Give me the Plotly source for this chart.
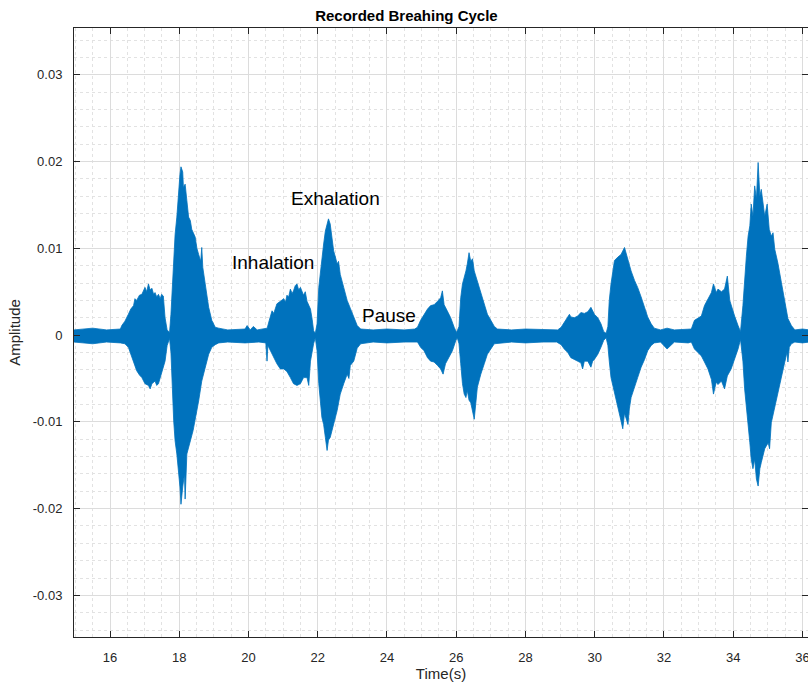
import plotly.graph_objects as go

# Upper envelope of the recorded breathing signal (time in s, amplitude)
upper_t = [14.96, 15.50, 15.90, 16.30,
           16.34, 16.43, 16.53, 16.60, 16.68, 16.72, 16.77, 16.85, 16.92, 17.01, 17.06, 17.11,
           17.16, 17.21, 17.26, 17.30, 17.35, 17.40, 17.45, 17.49, 17.54, 17.59, 17.65, 17.72,
           17.76, 17.82, 17.88, 17.93, 17.98, 18.02, 18.05, 18.10, 18.12, 18.17, 18.22, 18.27,
           18.32, 18.36, 18.46, 18.51, 18.56, 18.62, 18.65, 18.68, 18.75, 18.80, 18.85, 18.94,
           19.04, 19.14, 19.40, 19.90, 19.96, 20.05, 20.14, 20.25, 20.45,
           20.54, 20.60, 20.68, 20.73, 20.82, 20.92, 21.02, 21.07, 21.11, 21.16, 21.21, 21.26,
           21.30, 21.35, 21.40, 21.45, 21.50, 21.59, 21.64, 21.69, 21.79, 21.84, 21.88, 21.93,
           21.98, 22.03, 22.08, 22.12, 22.17, 22.22, 22.27, 22.31, 22.36, 22.41, 22.46, 22.51,
           22.56, 22.60, 22.65, 22.75, 22.85, 22.94, 23.04, 23.14, 23.24, 23.60, 24.00, 24.50, 24.80,
           24.88, 24.97, 25.07, 25.17, 25.26, 25.36, 25.46, 25.55, 25.60, 25.65, 25.74, 25.84,
           25.94, 26.01,
           26.08, 26.13, 26.18, 26.23, 26.28, 26.32, 26.37, 26.42, 26.47, 26.52, 26.61, 26.71,
           26.81, 26.90, 27.00, 27.10, 27.19, 27.60, 28.00, 28.50,
           28.93, 29.03, 29.12, 29.22, 29.27, 29.31, 29.41, 29.51, 29.60, 29.70, 29.80, 29.89,
           29.99, 30.09, 30.18, 30.26, 30.33,
           30.38, 30.42, 30.47, 30.52, 30.57, 30.67, 30.76, 30.86, 30.91, 30.96, 31.05, 31.15,
           31.24, 31.34, 31.44, 31.53, 31.63, 31.72, 31.90, 32.09, 32.30, 32.70,
           32.79, 32.88, 32.98, 33.08, 33.17, 33.27, 33.37, 33.43, 33.51, 33.56, 33.66, 33.75,
           33.83, 33.90, 33.94, 34.04, 34.14, 34.21,
           34.28, 34.33, 34.38, 34.43, 34.48, 34.52, 34.57, 34.62, 34.67, 34.72, 34.77, 34.81,
           34.86, 34.91, 34.98, 35.04, 35.10, 35.15, 35.20, 35.29, 35.39, 35.49, 35.58, 35.68,
           35.78, 36.00, 36.20]
upper_v = [0.0006, 0.0008, 0.0006, 0.0007,
           0.0011, 0.0016, 0.0024, 0.0030, 0.0034, 0.0042, 0.0040, 0.0046, 0.0047, 0.0055, 0.0050, 0.0059,
           0.0052, 0.0054, 0.0047, 0.0049, 0.0044, 0.0047, 0.0042, 0.0047, 0.0045, 0.0020, 0.0006, 0.0003,
           0.0024, 0.0074, 0.0116, 0.0136, 0.0170, 0.0185, 0.0194, 0.0188, 0.0170, 0.0174, 0.0155, 0.0136,
           0.0132, 0.0122, 0.0113, 0.0100, 0.0093, 0.0085, 0.0101, 0.0078, 0.0059, 0.0045, 0.0032, 0.0017,
           0.0009, 0.0008, 0.0006, 0.0007, 0.0011, 0.0006, 0.0010, 0.0006, 0.0007,
           0.0008, 0.0017, 0.0028, 0.0025, 0.0036, 0.0039, 0.0042, 0.0038, 0.0046, 0.0044, 0.0053, 0.0048,
           0.0051, 0.0057, 0.0059, 0.0052, 0.0055, 0.0046, 0.0050, 0.0039, 0.0030, 0.0018, 0.0005, 0.0002,
           0.0013, 0.0055, 0.0074, 0.0093, 0.0105, 0.0120, 0.0128, 0.0134, 0.0128, 0.0112, 0.0097, 0.0090,
           0.0082, 0.0085, 0.0070, 0.0055, 0.0040, 0.0031, 0.0020, 0.0011, 0.0007, 0.0006, 0.0007, 0.0006, 0.0007,
           0.0009, 0.0017, 0.0024, 0.0030, 0.0034, 0.0035, 0.0039, 0.0043, 0.0051, 0.0035, 0.0028, 0.0020,
           0.0009, 0.0003,
           0.0010, 0.0043, 0.0059, 0.0066, 0.0074, 0.0082, 0.0095, 0.0085, 0.0088, 0.0074, 0.0062, 0.0051,
           0.0035, 0.0024, 0.0017, 0.0010, 0.0007, 0.0006, 0.0007, 0.0006,
           0.0006, 0.0009, 0.0015, 0.0022, 0.0024, 0.0021, 0.0020, 0.0022, 0.0026, 0.0025, 0.0027, 0.0032,
           0.0024, 0.0020, 0.0013, 0.0004, 0.0002,
           0.0010, 0.0040, 0.0059, 0.0071, 0.0086, 0.0090, 0.0093, 0.0101, 0.0093, 0.0086, 0.0074, 0.0063,
           0.0055, 0.0044, 0.0032, 0.0021, 0.0013, 0.0008, 0.0006, 0.0008, 0.0006, 0.0007,
           0.0007, 0.0017, 0.0020, 0.0022, 0.0034, 0.0041, 0.0049, 0.0059, 0.0049, 0.0053, 0.0050, 0.0053,
           0.0068, 0.0040, 0.0034, 0.0022, 0.0011, 0.0004,
           0.0034, 0.0068, 0.0091, 0.0114, 0.0126, 0.0151, 0.0137, 0.0172, 0.0157, 0.0199, 0.0160, 0.0168,
           0.0149, 0.0137, 0.0151, 0.0122, 0.0114, 0.0118, 0.0099, 0.0083, 0.0061, 0.0038, 0.0019, 0.0011,
           0.0006, 0.0007, 0.0006]

# Lower envelope of the same signal
lower_t = [14.96, 15.50, 15.90, 16.30,
           16.43, 16.53, 16.68, 16.77, 16.85, 16.92, 17.01, 17.11, 17.16, 17.21, 17.30, 17.35,
           17.40, 17.49, 17.54, 17.59, 17.65, 17.72,
           17.76, 17.80, 17.84, 17.88, 17.93, 17.98, 18.02, 18.05, 18.10, 18.15, 18.17, 18.22,
           18.27, 18.32, 18.40, 18.46, 18.56, 18.65, 18.75, 18.85, 18.94, 19.04, 19.14,
           19.40, 19.90, 20.30, 20.50,
           20.535, 20.56, 20.63, 20.73, 20.82, 20.92, 21.02, 21.11, 21.21, 21.30, 21.40, 21.50,
           21.59, 21.69, 21.74, 21.79, 21.88, 21.93,
           21.98, 22.03, 22.08, 22.12, 22.17, 22.22, 22.27, 22.31, 22.36, 22.41, 22.46, 22.51,
           22.56, 22.65, 22.75, 22.85, 22.90, 22.94, 23.04, 23.14, 23.24, 23.60, 24.00, 24.50, 24.80,
           24.88, 24.97, 25.07, 25.17, 25.26, 25.36, 25.46, 25.55, 25.62, 25.69, 25.79, 25.89,
           25.99, 26.03,
           26.08, 26.13, 26.18, 26.23, 26.28, 26.32, 26.37, 26.42, 26.52, 26.57, 26.61, 26.71,
           26.81, 26.90, 27.00, 27.10, 27.19, 27.60, 28.00, 28.50, 28.90,
           29.03, 29.12, 29.22, 29.31, 29.41, 29.51, 29.60, 29.65, 29.70, 29.80, 29.89, 29.94,
           29.99, 30.09, 30.18, 30.26, 30.33,
           30.38, 30.42, 30.47, 30.52, 30.57, 30.67, 30.76, 30.81, 30.86, 30.96, 31.00, 31.05,
           31.15, 31.24, 31.34, 31.44, 31.53, 31.63, 31.72, 31.90, 32.09, 32.30, 32.70,
           32.79, 32.88, 32.98, 33.08, 33.17, 33.27, 33.37, 33.43, 33.51, 33.56, 33.66, 33.75,
           33.83, 33.94, 34.04, 34.14, 34.21,
           34.28, 34.33, 34.38, 34.43, 34.48, 34.52, 34.57, 34.62, 34.67, 34.72, 34.77, 34.81,
           34.86, 34.91, 35.01, 35.05, 35.10, 35.20, 35.29, 35.39, 35.49, 35.55, 35.58, 35.62,
           35.68, 35.78, 36.00, 36.20]
lower_v = [-0.0008, -0.0010, -0.0008, -0.0009,
           -0.0010, -0.0014, -0.0030, -0.0041, -0.0046, -0.0049, -0.0056, -0.0058, -0.0062, -0.0056, -0.0053, -0.0058,
           -0.0056, -0.0045, -0.0037, -0.0030, -0.0012, -0.0004,
           -0.0020, -0.0060, -0.0099, -0.0122, -0.0137, -0.0156, -0.0175, -0.0195, -0.0175, -0.0160, -0.0189, -0.0137,
           -0.0130, -0.0122, -0.0110, -0.0099, -0.0076, -0.0053, -0.0037, -0.0022, -0.0014, -0.0011, -0.0009,
           -0.0008, -0.0009, -0.0008, -0.0009,
           -0.0030, -0.0012, -0.0018, -0.0026, -0.0033, -0.0039, -0.0039, -0.0042, -0.0049, -0.0056, -0.0058, -0.0056,
           -0.0049, -0.0049, -0.0058, -0.0030, -0.0010, -0.0003,
           -0.0018, -0.0056, -0.0079, -0.0095, -0.0103, -0.0118, -0.0133, -0.0121, -0.0118, -0.0110, -0.0100, -0.0095,
           -0.0087, -0.0068, -0.0056, -0.0045, -0.0050, -0.0035, -0.0030, -0.0015, -0.0010, -0.0008, -0.0009, -0.0008, -0.0008,
           -0.0008, -0.0014, -0.0018, -0.0026, -0.0030, -0.0031, -0.0035, -0.0039, -0.0045, -0.0033, -0.0026, -0.0018,
           -0.0006, -0.0003,
           -0.0010, -0.0033, -0.0056, -0.0068, -0.0072, -0.0064, -0.0075, -0.0078, -0.0097, -0.0075, -0.0060, -0.0045,
           -0.0033, -0.0022, -0.0016, -0.0010, -0.0009, -0.0008, -0.0009, -0.0008, -0.0008,
           -0.0011, -0.0016, -0.0020, -0.0026, -0.0028, -0.0030, -0.0032, -0.0039, -0.0030, -0.0030, -0.0037, -0.0030,
           -0.0028, -0.0022, -0.0014, -0.0006, -0.0003,
           -0.0012, -0.0030, -0.0049, -0.0060, -0.0068, -0.0083, -0.0099, -0.0108, -0.0090, -0.0103, -0.0085, -0.0072,
           -0.0060, -0.0049, -0.0037, -0.0028, -0.0018, -0.0012, -0.0009, -0.0008, -0.0016, -0.0008, -0.0009,
           -0.0008, -0.0016, -0.0020, -0.0024, -0.0031, -0.0039, -0.0051, -0.0068, -0.0054, -0.0057, -0.0053, -0.0062,
           -0.0047, -0.0039, -0.0028, -0.0016, -0.0005,
           -0.0030, -0.0062, -0.0085, -0.0104, -0.0124, -0.0143, -0.0154, -0.0143, -0.0166, -0.0174, -0.0154, -0.0147,
           -0.0138, -0.0131, -0.0124, -0.0131, -0.0101, -0.0085, -0.0066, -0.0047, -0.0031, -0.0020, -0.0031, -0.0014,
           -0.0010, -0.0008, -0.0009, -0.0008]

y_tick_vals = [-0.03, -0.02, -0.01, 0, 0.01, 0.02, 0.03]
y_tick_text = ["-0.03", "-0.02", "-0.01", "0", "0.01", "0.02", "0.03"]

phase_labels = ["Exhalation", "Inhalation", "Pause"]
phase_t = [22.50, 20.71, 24.06]
phase_amp = [0.0157, 0.00835, 0.00225]

BLUE = "#0072BD"
AXIS = "#262626"
FONT = "Arial, Liberation Sans, Helvetica, sans-serif"

# Closed outline: upper envelope left to right, lower envelope back
poly_x = upper_t + lower_t[::-1]
poly_y = upper_v + lower_v[::-1]

fig = go.Figure()
fig.add_trace(go.Scatter(
    x=poly_x, y=poly_y, mode="lines", fill="toself",
    fillcolor=BLUE, line=dict(color=BLUE, width=0.8),
    hoverinfo="skip", showlegend=False,
))

for txt, tx, ty in zip(phase_labels, phase_t, phase_amp):
    fig.add_annotation(x=tx, y=ty, text=txt, showarrow=False,
                       font=dict(family=FONT, size=19, color="#000000"))

axis_common = dict(
    showline=True, linecolor=AXIS, linewidth=1, mirror="ticks",
    ticks="inside", ticklen=6, tickcolor=AXIS, tickwidth=1,
    showgrid=True, gridcolor="#dcdcdc", gridwidth=1, zeroline=False,
    tickfont=dict(family=FONT, size=13, color=AXIS),
    ticklabeloverflow="allow",
)

fig.update_xaxes(
    range=[14.96, 36.16], tick0=0, dtick=2, ticklabelstandoff=8,
    minor=dict(dtick=0.5, showgrid=True, gridcolor="#e2e2e2", griddash="dot", ticks=""),
    title=dict(text="Time(s)", font=dict(family=FONT, size=15, color=AXIS), standoff=4),
    **axis_common,
)
fig.update_yaxes(
    range=[-0.0348, 0.0354], tickvals=y_tick_vals, ticktext=y_tick_text, ticklabelstandoff=8,
    minor=dict(dtick=0.002, tick0=0, showgrid=True, gridcolor="#e2e2e2", griddash="dot", ticks=""),
    title=dict(text="Amplitude", font=dict(family=FONT, size=15, color=AXIS), standoff=8),
    **axis_common,
)

fig.update_layout(
    width=808, height=683,
    margin=dict(l=74, r=0, t=28, b=46, autoexpand=False),
    paper_bgcolor="white", plot_bgcolor="white",
    title=dict(text="<b>Recorded Breahing Cycle</b>", x=0.503, xanchor="center",
               y=1 - 16 / 683, yref="container", yanchor="middle",
               font=dict(family=FONT, size=15, color="#000000")),
)

fig.write_html("out.html")
